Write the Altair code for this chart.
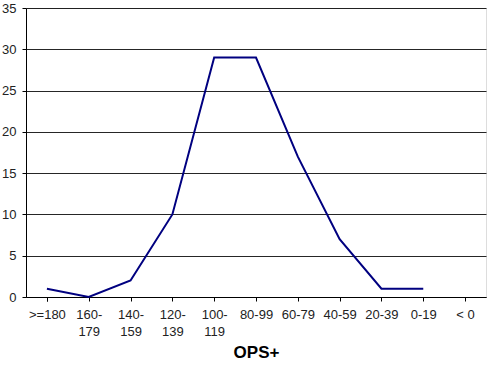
import altair as alt
import pandas as pd

categories = [">=180", "160-179", "140-159", "120-139", "100-119", "80-99",
              "60-79", "40-59", "20-39", "0-19", "< 0"]
counts = [1, 0, 2, 10, 29, 29, 17, 7, 1, 1, None]

df = pd.DataFrame({"cat": categories, "count": counts})

label_expr = ("length(datum.label) > 5 && indexof(datum.label, '-') > 0 ? "
              "[slice(datum.label, 0, 4), slice(datum.label, 4)] : datum.label")

chart = alt.Chart(df).mark_line(color="#000080", strokeWidth=2).encode(
    x=alt.X("cat:N", sort=categories,
            scale=alt.Scale(domain=categories, paddingInner=0, paddingOuter=0),
            axis=alt.Axis(title="OPS+", labelAngle=0, labelExpr=label_expr,
                          bandPosition=1, tickExtra=True, tickSize=4,
                          tickColor="#000", domainColor="#000",
                          labelFont="Liberation Sans", labelFontSize=13,
                          labelColor="#222", labelPadding=7, labelLineHeight=17,
                          titleFont="Liberation Sans", titleFontSize=17,
                          titleFontWeight="bold", titleColor="#000",
                          titlePadding=6, grid=False)),
    y=alt.Y("count:Q", scale=alt.Scale(domain=[0, 35]),
            axis=alt.Axis(title=None, values=[0, 5, 10, 15, 20, 25, 30, 35],
                          tickSize=4, tickColor="#000", domainColor="#000",
                          labelFont="Liberation Sans", labelFontSize=13,
                          labelColor="#222", labelPadding=6,
                          grid=True, gridColor="#000", gridOpacity=0.85)),
).properties(
    width=460, height=289,
    autosize=alt.AutoSizeParams(type="none"),
    padding={"left": 26, "top": 8, "right": 14, "bottom": 72},
).configure_view(
    fill="#c0c0c0", stroke="#808080", strokeWidth=1
).configure(background="white")

chart.save("out.html", embed_options={"renderer": "svg", "actions": False})
